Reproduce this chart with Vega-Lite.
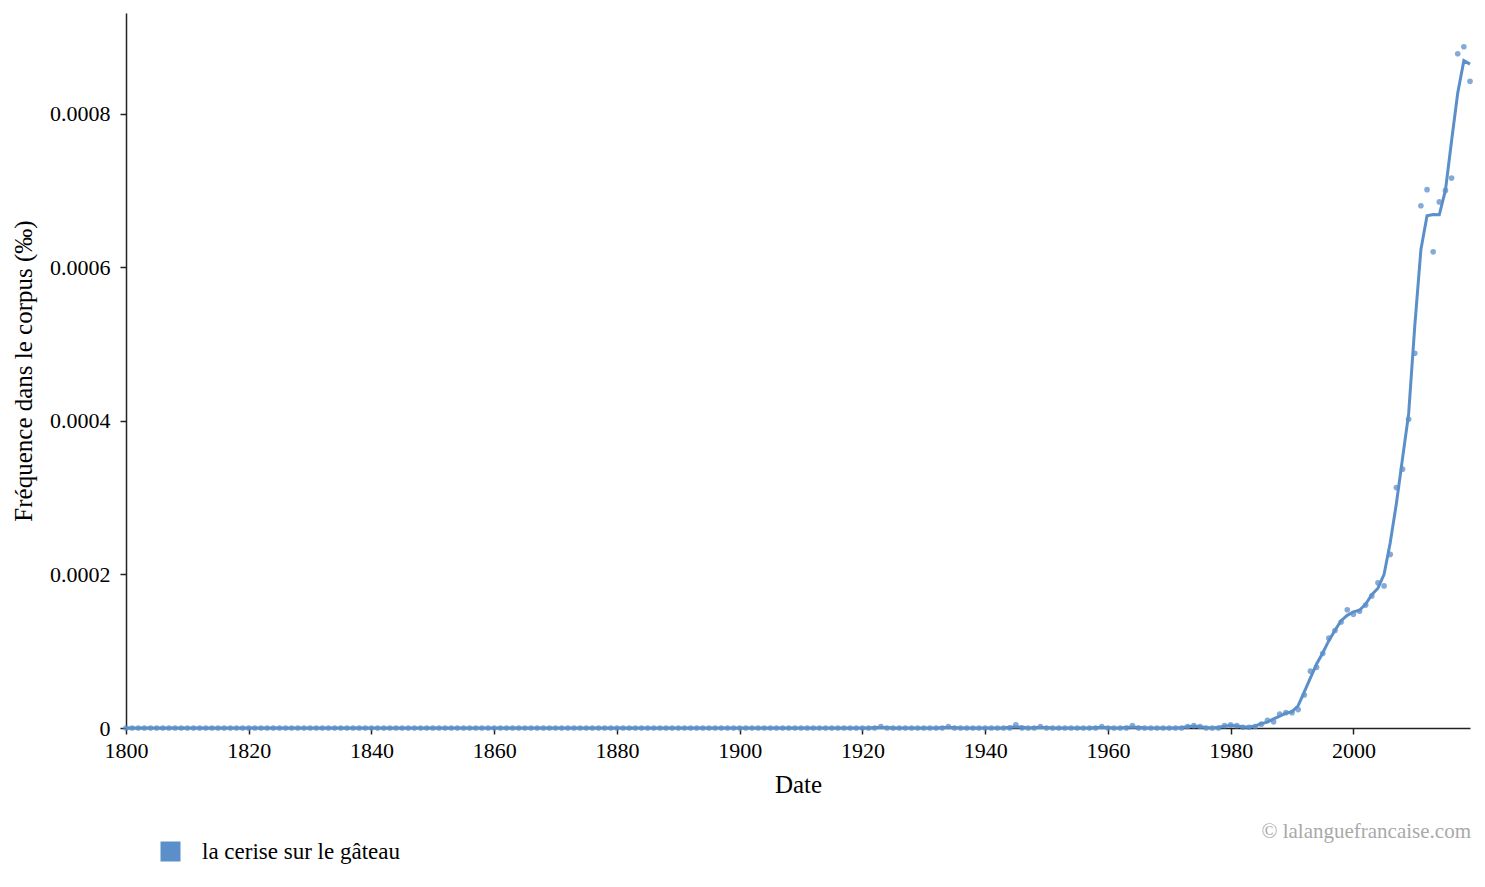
{
"$schema": "https://vega.github.io/schema/vega-lite/v6.json",
"width": 1344,
"height": 715,
"autosize": {"type": "none"},
"padding": {"left": 126, "top": 13, "right": 15, "bottom": 159},
"background": "white",
"config": {
  "view": {"stroke": null},
  "font": "Liberation Serif",
  "axis": {"grid": false, "domainColor": "#222222", "tickColor": "#222222", "labelColor": "#000000", "titleColor": "#000000", "labelFont": "Liberation Serif", "titleFont": "Liberation Serif", "labelFontSize": 22, "titleFontSize": 25, "titleFontWeight": "normal", "domainWidth": 1.5, "tickWidth": 1.5, "tickSize": 6, "labelFlush": false}
},
"title": {"text": "© lalanguefrancaise.com", "orient": "bottom", "anchor": "end", "fontSize": 21, "font": "Liberation Serif", "fontWeight": "normal", "color": "#a9a9a9", "offset": -43, "dx": -5},
"data": {"values": [
{"year":1800,"v":0,"s":0},{"year":1801,"v":0,"s":0},{"year":1802,"v":0,"s":0},{"year":1803,"v":0,"s":0},{"year":1804,"v":0,"s":0},{"year":1805,"v":0,"s":0},{"year":1806,"v":0,"s":0},{"year":1807,"v":0,"s":0},{"year":1808,"v":0,"s":0},{"year":1809,"v":0,"s":0},
{"year":1810,"v":0,"s":0},{"year":1811,"v":0,"s":0},{"year":1812,"v":0,"s":0},{"year":1813,"v":0,"s":0},{"year":1814,"v":0,"s":0},{"year":1815,"v":0,"s":0},{"year":1816,"v":0,"s":0},{"year":1817,"v":0,"s":0},{"year":1818,"v":0,"s":0},{"year":1819,"v":0,"s":0},
{"year":1820,"v":0,"s":0},{"year":1821,"v":0,"s":0},{"year":1822,"v":0,"s":0},{"year":1823,"v":0,"s":0},{"year":1824,"v":0,"s":0},{"year":1825,"v":0,"s":0},{"year":1826,"v":0,"s":0},{"year":1827,"v":0,"s":0},{"year":1828,"v":0,"s":0},{"year":1829,"v":0,"s":0},
{"year":1830,"v":0,"s":0},{"year":1831,"v":0,"s":0},{"year":1832,"v":0,"s":0},{"year":1833,"v":0,"s":0},{"year":1834,"v":0,"s":0},{"year":1835,"v":0,"s":0},{"year":1836,"v":0,"s":0},{"year":1837,"v":0,"s":0},{"year":1838,"v":0,"s":0},{"year":1839,"v":0,"s":0},
{"year":1840,"v":0,"s":0},{"year":1841,"v":0,"s":0},{"year":1842,"v":0,"s":0},{"year":1843,"v":0,"s":0},{"year":1844,"v":0,"s":0},{"year":1845,"v":0,"s":0},{"year":1846,"v":0,"s":0},{"year":1847,"v":0,"s":0},{"year":1848,"v":0,"s":0},{"year":1849,"v":0,"s":0},
{"year":1850,"v":0,"s":0},{"year":1851,"v":0,"s":0},{"year":1852,"v":0,"s":0},{"year":1853,"v":0,"s":0},{"year":1854,"v":0,"s":0},{"year":1855,"v":0,"s":0},{"year":1856,"v":0,"s":0},{"year":1857,"v":0,"s":0},{"year":1858,"v":0,"s":0},{"year":1859,"v":0,"s":0},
{"year":1860,"v":0,"s":0},{"year":1861,"v":0,"s":0},{"year":1862,"v":0,"s":0},{"year":1863,"v":0,"s":0},{"year":1864,"v":0,"s":0},{"year":1865,"v":0,"s":0},{"year":1866,"v":0,"s":0},{"year":1867,"v":0,"s":0},{"year":1868,"v":0,"s":0},{"year":1869,"v":0,"s":0},
{"year":1870,"v":0,"s":0},{"year":1871,"v":0,"s":0},{"year":1872,"v":0,"s":0},{"year":1873,"v":0,"s":0},{"year":1874,"v":0,"s":0},{"year":1875,"v":0,"s":0},{"year":1876,"v":0,"s":0},{"year":1877,"v":0,"s":0},{"year":1878,"v":0,"s":0},{"year":1879,"v":0,"s":0},
{"year":1880,"v":0,"s":0},{"year":1881,"v":0,"s":0},{"year":1882,"v":0,"s":0},{"year":1883,"v":0,"s":0},{"year":1884,"v":0,"s":0},{"year":1885,"v":0,"s":0},{"year":1886,"v":0,"s":0},{"year":1887,"v":0,"s":0},{"year":1888,"v":0,"s":0},{"year":1889,"v":0,"s":0},
{"year":1890,"v":0,"s":0},{"year":1891,"v":0,"s":0},{"year":1892,"v":0,"s":0},{"year":1893,"v":0,"s":0},{"year":1894,"v":0,"s":0},{"year":1895,"v":0,"s":0},{"year":1896,"v":0,"s":0},{"year":1897,"v":0,"s":0},{"year":1898,"v":0,"s":0},{"year":1899,"v":0,"s":0},
{"year":1900,"v":0,"s":0},{"year":1901,"v":0,"s":0},{"year":1902,"v":0,"s":0},{"year":1903,"v":0,"s":0},{"year":1904,"v":0,"s":0},{"year":1905,"v":0,"s":0},{"year":1906,"v":0,"s":0},{"year":1907,"v":0,"s":0},{"year":1908,"v":0,"s":0},{"year":1909,"v":0,"s":0},
{"year":1910,"v":0,"s":0},{"year":1911,"v":0,"s":0},{"year":1912,"v":0,"s":0},{"year":1913,"v":0,"s":0},{"year":1914,"v":0,"s":0},{"year":1915,"v":0,"s":0},{"year":1916,"v":0,"s":0},{"year":1917,"v":0,"s":0},{"year":1918,"v":0,"s":0},{"year":1919,"v":0,"s":0},
{"year":1920,"v":0,"s":0},{"year":1921,"v":0,"s":0},{"year":1922,"v":0,"s":0.0000007},{"year":1923,"v":0.000002,"s":0.0000007},{"year":1924,"v":0,"s":0.0000007},{"year":1925,"v":0,"s":0},{"year":1926,"v":0,"s":0},{"year":1927,"v":0,"s":0},{"year":1928,"v":0,"s":0},{"year":1929,"v":0,"s":0},
{"year":1930,"v":0,"s":0},{"year":1931,"v":0,"s":0},{"year":1932,"v":0,"s":0},{"year":1933,"v":0,"s":0.0000007},{"year":1934,"v":0.000002,"s":0.0000007},{"year":1935,"v":0,"s":0.0000007},{"year":1936,"v":0,"s":0},{"year":1937,"v":0,"s":0},{"year":1938,"v":0,"s":0},{"year":1939,"v":0,"s":0},
{"year":1940,"v":0,"s":0},{"year":1941,"v":0,"s":0},{"year":1942,"v":0,"s":0},{"year":1943,"v":0,"s":0},{"year":1944,"v":0,"s":0.0000013},{"year":1945,"v":0.000004,"s":0.0000013},{"year":1946,"v":0,"s":0.0000013},{"year":1947,"v":0,"s":0},{"year":1948,"v":0,"s":0.0000007},{"year":1949,"v":0.000002,"s":0.0000007},
{"year":1950,"v":0,"s":0.0000007},{"year":1951,"v":0,"s":0},{"year":1952,"v":0,"s":0},{"year":1953,"v":0,"s":0},{"year":1954,"v":0,"s":0},{"year":1955,"v":0,"s":0},{"year":1956,"v":0,"s":0},{"year":1957,"v":0,"s":0},{"year":1958,"v":0,"s":0.0000007},{"year":1959,"v":0.000002,"s":0.0000007},
{"year":1960,"v":0,"s":0.0000007},{"year":1961,"v":0,"s":0},{"year":1962,"v":0,"s":0},{"year":1963,"v":0,"s":0.000001},{"year":1964,"v":0.000003,"s":0.000001},{"year":1965,"v":0,"s":0.000001},{"year":1966,"v":0,"s":0},{"year":1967,"v":0,"s":0},{"year":1968,"v":0,"s":0},{"year":1969,"v":0,"s":0},
{"year":1970,"v":0,"s":0},{"year":1971,"v":0,"s":0},{"year":1972,"v":0,"s":0.0000007},{"year":1973,"v":0.000002,"s":0.0000017},{"year":1974,"v":0.000003,"s":0.0000023},{"year":1975,"v":0.000002,"s":0.0000017},{"year":1976,"v":0,"s":0.0000007},{"year":1977,"v":0,"s":0},{"year":1978,"v":0,"s":0.000001},{"year":1979,"v":0.000003,"s":0.0000023},
{"year":1980,"v":0.000004,"s":0.0000033},{"year":1981,"v":0.000003,"s":0.0000027},{"year":1982,"v":0.000001,"s":0.0000017},{"year":1983,"v":0.000001,"s":0.0000013},{"year":1984,"v":0.000002,"s":0.0000027},{"year":1985,"v":0.000005,"s":0.0000057},{"year":1986,"v":0.00001,"s":0.0000077},{"year":1987,"v":0.000008,"s":0.000012},{"year":1988,"v":0.000018,"s":0.0000153},{"year":1989,"v":0.00002,"s":0.0000193},
{"year":1990,"v":0.00002,"s":0.0000213},{"year":1991,"v":0.000024,"s":0.000029},{"year":1992,"v":0.000043,"s":0.000047},{"year":1993,"v":0.000074,"s":0.0000653},{"year":1994,"v":0.000079,"s":0.0000833},{"year":1995,"v":0.000097,"s":0.0000977},{"year":1996,"v":0.000117,"s":0.0001137},{"year":1997,"v":0.000127,"s":0.0001273},{"year":1998,"v":0.000138,"s":0.0001397},{"year":1999,"v":0.000154,"s":0.0001467},
{"year":2000,"v":0.000148,"s":0.0001513},{"year":2001,"v":0.000152,"s":0.0001533},{"year":2002,"v":0.00016,"s":0.0001613},{"year":2003,"v":0.000172,"s":0.0001737},{"year":2004,"v":0.000189,"s":0.000182},{"year":2005,"v":0.000185,"s":0.0002},{"year":2006,"v":0.000226,"s":0.0002413},{"year":2007,"v":0.000313,"s":0.000292},{"year":2008,"v":0.000337,"s":0.0003507},{"year":2009,"v":0.000402,"s":0.000409},
{"year":2010,"v":0.000488,"s":0.0005233},{"year":2011,"v":0.00068,"s":0.000623},{"year":2012,"v":0.000701,"s":0.000667},{"year":2013,"v":0.00062,"s":0.0006687},{"year":2014,"v":0.000685,"s":0.0006683},{"year":2015,"v":0.0007,"s":0.0007003},{"year":2016,"v":0.000716,"s":0.0007647},{"year":2017,"v":0.000878,"s":0.000827},{"year":2018,"v":0.000887,"s":0.000869},{"year":2019,"v":0.000842,"s":0.0008645}
]},
"layer": [
  {
    "mark": {"type": "point", "filled": true, "size": 32, "opacity": 0.75, "strokeWidth": 0},
    "encoding": {
      "x": {"field": "year", "type": "quantitative", "scale": {"domain": [1800, 2019], "nice": false, "zero": false},
            "axis": {"values": [1800,1820,1840,1860,1880,1900,1920,1940,1960,1980,2000], "format": "d", "title": "Date", "labelPadding": 6, "titlePadding": 11, "titleFontSize": 25}},
      "y": {"field": "v", "type": "quantitative", "scale": {"domain": [0, 0.000931], "nice": false},
            "axis": {"values": [0, 0.0002, 0.0004, 0.0006, 0.0008], "format": "~g", "title": "Fréquence dans le corpus (‰)", "labelPadding": 10, "titlePadding": 13}},
      "color": {"datum": "la cerise sur le gâteau", "type": "nominal", "scale": {"range": ["#5b8fc9"]},
                "legend": {"orient": "none", "legendX": 33, "legendY": 827, "title": null, "symbolType": "square", "symbolSize": 400, "symbolOpacity": 1, "symbolStrokeWidth": 0, "symbolFillColor": "#5b8fc9", "labelFont": "Liberation Serif", "labelFontSize": 23, "labelColor": "#000000", "labelOffset": 20, "labelLimit": 0, "padding": 0}}
    }
  },
  {
    "mark": {"type": "line", "color": "#5b8fc9", "strokeWidth": 3, "interpolate": "linear"},
    "encoding": {
      "x": {"field": "year", "type": "quantitative"},
      "y": {"field": "s", "type": "quantitative"}
    }
  }
]
}
